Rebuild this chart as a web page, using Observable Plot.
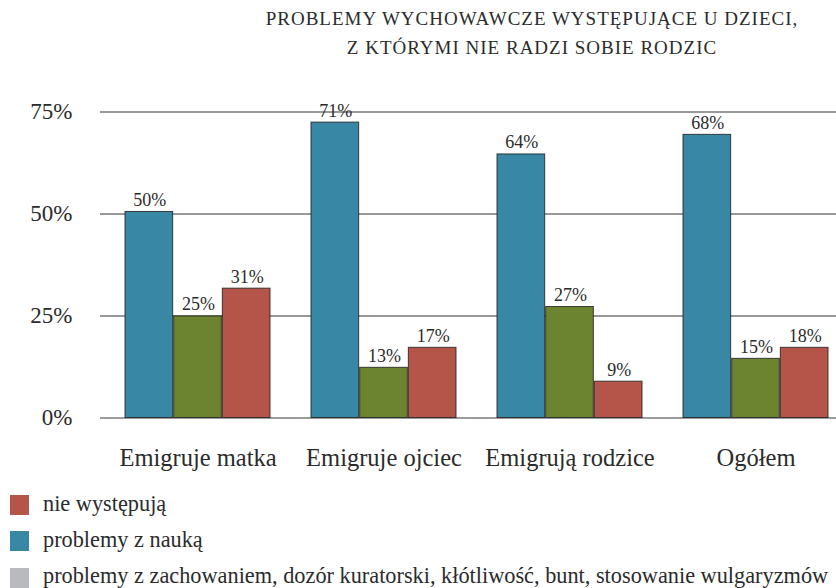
<!DOCTYPE html>
<html>
<head>
<meta charset="utf-8">
<script src="https://cdn.jsdelivr.net/npm/d3@7"></script>
<script src="https://cdn.jsdelivr.net/npm/@observablehq/plot@0.6"></script>
<style>
  html, body { margin: 0; padding: 0; background: #fff; }
  body { width: 836px; height: 588px; position: relative; overflow: hidden; font-family: "Liberation Serif", "DejaVu Serif", serif; color: #2b2b2b; }
  #title { position: absolute; left: 232px; top: 4.4px; width: 600px; text-align: center; font-size: 19px; line-height: 29px; letter-spacing: 1px; }
  #chart { position: absolute; left: 0; top: 80px; }
  .row { position: absolute; left: 10px; height: 20px; }
  .sw { position: absolute; left: 0; top: 0; width: 19px; height: 20px; }
  .lab { position: absolute; left: 33px; top: -1.5px; white-space: nowrap; font-size: 22.3px; line-height: 20px; }
</style>
</head>
<body>
<div id="title">PROBLEMY WYCHOWAWCZE WYSTĘPUJĄCE U DZIECI,<br>Z KTÓRYMI NIE RADZI SOBIE RODZIC</div>
<div id="chart"></div>
<div id="legend"></div>
<script>
const categories = ["Emigruje matka", "Emigruje ojciec", "Emigrują rodzice", "Ogółem"];
const seriesNames = ["problemy z nauką", "problemy z zachowaniem, dozór kuratorski, kłótliwość, bunt, stosowanie wulgaryzmów", "nie występują"];
// bar heights as drawn in the picture
const naukaValues = [50.5, 72.4, 64.6, 69.4];
const zachowanieValues = [24.9, 12.3, 27.2, 14.5];
const nieWystepujaValues = [31.7, 17.2, 8.9, 17.2];
// printed value labels
const naukaLabels = [50, 71, 64, 68];
const zachowanieLabels = [25, 13, 27, 15];
const nieWystepujaLabels = [31, 17, 9, 18];
const yTicks = [0, 25, 50, 75];
const legendOrder = ["nie występują", "problemy z nauką", "problemy z zachowaniem, dozór kuratorski, kłótliwość, bunt, stosowanie wulgaryzmów"];

const barColors = ["#3787a5", "#6c8330", "#b5554a"];
const legendColors = ["#b5554a", "#3787a5", "#b9babe"];

const seriesValues = [naukaValues, zachowanieValues, nieWystepujaValues];
const seriesLabels = [naukaLabels, zachowanieLabels, nieWystepujaLabels];
const rows = [];
seriesValues.forEach((vals, s) => vals.forEach((v, i) => rows.push({category: categories[i], series: s, value: v, label: seriesLabels[s][i] + "%"})));

const W = 836, H = 400, mL = 100, mR = 0, mT = 31.5, mB = 62.5;
const xOpts = {paddingInner: 0.218, paddingOuter: 0.08, align: 0.77};
const bw = d3.scaleBand().domain(categories).range([mL, W - mR]).paddingInner(xOpts.paddingInner).paddingOuter(xOpts.paddingOuter).align(xOpts.align).bandwidth();
const sub = bw / 3;

const marks = [
  Plot.ruleY([25, 50, 75], {stroke: "#333", strokeWidth: 1}),
  Plot.ruleY([0], {stroke: "#7a7a7a", strokeWidth: 1.6}),
];
for (let s = 0; s < 3; s++) {
  const data = rows.filter(d => d.series === s);
  marks.push(Plot.barY(data, {
    x: "category", y: "value", fill: barColors[s],
    stroke: "#222", strokeWidth: 1, strokeOpacity: 0.85,
    insetLeft: s * sub, insetRight: (2 - s) * sub
  }));
  marks.push(Plot.text(data, {
    x: "category", y: "value", text: "label",
    dx: (s - 1) * sub + 0.5, dy: -6, lineAnchor: "bottom",
    fontSize: 18, fill: "#2b2b2b"
  }));
}
marks.push(Plot.axisY({ticks: yTicks, tickFormat: d => d + "%", tickSize: 0, tickPadding: 28, fontSize: 23, fill: "#2b2b2b", label: null}));
marks.push(Plot.axisX({tickSize: 0, tickPadding: 31, fontSize: 24.5, fill: "#2b2b2b", label: null}));

const chart = Plot.plot({
  width: W, height: H,
  marginLeft: mL, marginRight: mR, marginTop: mT, marginBottom: mB,
  style: {fontFamily: "'Liberation Serif', 'DejaVu Serif', serif", background: "transparent", overflow: "visible"},
  x: {domain: categories, ...xOpts, axis: null},
  y: {domain: [0, 75], axis: null},
  marks
});
document.getElementById("chart").appendChild(chart);

const legend = document.getElementById("legend");
const rowTops = [495, 531, 567.5];
legendOrder.forEach((name, i) => {
  const r = document.createElement("div");
  r.className = "row";
  r.style.top = rowTops[i] + "px";
  const sw = document.createElement("div");
  sw.className = "sw";
  sw.style.background = legendColors[i];
  const lab = document.createElement("div");
  lab.className = "lab";
  lab.textContent = name;
  r.appendChild(sw); r.appendChild(lab);
  legend.appendChild(r);
});
</script>
</body>
</html>
